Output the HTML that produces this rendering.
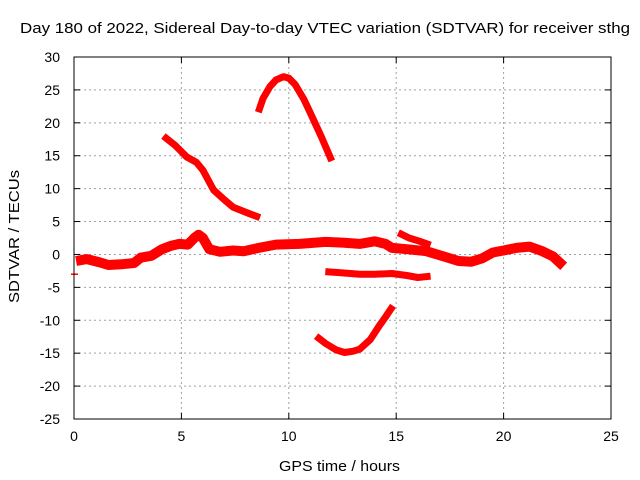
<!DOCTYPE html>
<html><head><meta charset="utf-8"><style>
body{margin:0;background:#fff;}
svg{display:block;font-family:"Liberation Sans",sans-serif;}
</style></head><body>
<svg id="chart" width="640" height="480" viewBox="0 0 640 480" xmlns="http://www.w3.org/2000/svg">
<rect width="640" height="480" fill="#fff"/>
<text x="20" y="33" font-size="15" textLength="610" lengthAdjust="spacingAndGlyphs">Day 180 of 2022, Sidereal Day-to-day VTEC variation (SDTVAR) for receiver sthg</text>
<text x="279" y="471" font-size="15" textLength="121" lengthAdjust="spacingAndGlyphs">GPS time / hours</text>
<text transform="translate(19,303) rotate(-90)" font-size="15" textLength="133" lengthAdjust="spacingAndGlyphs">SDTVAR / TECUs</text>
<g id="grid"></g><g id="ticks"></g><g id="series"></g>
<rect x="74" y="57" width="537" height="362" fill="none" stroke="#000" stroke-width="1"/>
</svg>
<script>
const xTicks=[0,5,10,15,20,25];
const yTicks=[30,25,20,15,10,5,0,-5,-10,-15,-20,-25];
const mainBandH=[0.1,0.6,1.2,1.6,2.2,2.8,3.1,3.6,4.1,4.5,4.9,5.3,5.6,5.8,6.0,6.3,6.8,7.4,7.9,8.6,9.4,10.5,11.7,12.5,13.3,14.0,14.5,14.8,15.5,16.4,17.2,17.9,18.5,19.0,19.5,20.0,20.6,21.2,21.8,22.3,22.8];
const mainBandV=[-1,-0.7,-1.2,-1.6,-1.5,-1.3,-0.5,-0.2,0.8,1.3,1.6,1.5,2.5,3.0,2.5,0.8,0.4,0.6,0.5,1.0,1.5,1.6,1.9,1.8,1.6,2.0,1.6,1.0,0.8,0.5,-0.3,-1.0,-1.1,-0.6,0.3,0.6,1.0,1.2,0.5,-0.3,-1.8];
const upperBranchH=[15.1,15.6,16.1,16.6];
const upperBranchV=[3.3,2.5,2.0,1.4];
const lowerBandH=[11.7,12.5,13.3,14.0,14.8,15.5,16.0,16.6];
const lowerBandV=[-2.6,-2.8,-3.0,-3.0,-2.9,-3.2,-3.5,-3.3];
const descH=[4.16,4.7,5.25,5.7,6.0,6.5,7.0,7.4,8.0,8.66];
const descV=[18.0,16.6,14.8,14.0,12.8,9.8,8.3,7.2,6.4,5.6];
const arcH=[8.58,8.8,9.12,9.4,9.75,10.0,10.3,10.7,11.0,11.5,12.0];
const arcV=[21.6,23.7,25.5,26.5,27.0,26.8,25.8,23.6,21.5,18.0,14.2];
const bowlH=[11.27,11.7,12.2,12.6,13.0,13.3,13.8,14.2,14.5,14.85];
const bowlV=[-12.4,-13.5,-14.5,-14.9,-14.7,-14.4,-12.9,-10.9,-9.5,-7.8];
const X=h=>74+h*537/25;
const Y=v=>57+(30-v)*362/55;
const NS="http://www.w3.org/2000/svg";
const grid=document.getElementById('grid'),ticks=document.getElementById('ticks'),ser=document.getElementById('series');
function mk(tag,attrs,parent){const e=document.createElementNS(NS,tag);for(const k in attrs)e.setAttribute(k,attrs[k]);parent.appendChild(e);return e;}
xTicks.forEach(t=>{
  const x=X(t);
  if(t>0&&t<25){const g=mk('line',{x1:x,x2:x,y1:57,y2:419,stroke:'#a0a0a0','stroke-dasharray':'2,3'},grid);
  
  }
  mk('line',{x1:x,x2:x,y1:419,y2:413,stroke:'#000'},ticks);
  mk('line',{x1:x,x2:x,y1:57,y2:63,stroke:'#000'},ticks);
  const tx=mk('text',{x:x,y:441,'font-size':14,'text-anchor':'middle'},ticks);tx.textContent=t;
  
  
});
yTicks.forEach(t=>{
  const y=Y(t);
  if(t<30&&t>-25){const g=mk('line',{x1:74,x2:611,y1:y,y2:y,stroke:'#a0a0a0','stroke-dasharray':'2,3'},grid);
  
  }
  mk('line',{x1:74,x2:80,y1:y,y2:y,stroke:'#000'},ticks);
  mk('line',{x1:611,x2:605,y1:y,y2:y,stroke:'#000'},ticks);
  const tx=mk('text',{x:60,y:y+5,'font-size':14,'text-anchor':'end'},ticks);tx.textContent=t;
  
  
});
function line(hs,vs,w,name){
  const d=hs.map((h,i)=>(i?'L':'M')+X(h).toFixed(1)+','+Y(vs[i]).toFixed(1)).join(' ');
  const p=mk('path',{d:d,fill:'none',stroke:'#ff0000','stroke-width':w,'stroke-linejoin':'round','stroke-linecap':'butt'},ser);
  
  
}
line(mainBandH,mainBandV,10,'series-main-band');
line(upperBranchH,upperBranchV,7,'series-upper-branch');
line(lowerBandH,lowerBandV,7,'series-lower-band');
line(descH,descV,7,'series-descending-arc');
line(arcH,arcV,7,'series-peak-arc');
line(bowlH,bowlV,7,'series-bowl-arc');
const m=mk('line',{x1:X(0)-3,x2:X(0)+4,y1:Y(-3),y2:Y(-3),stroke:'#ff0000','stroke-width':1.5},ser);


</script>
</body></html>
